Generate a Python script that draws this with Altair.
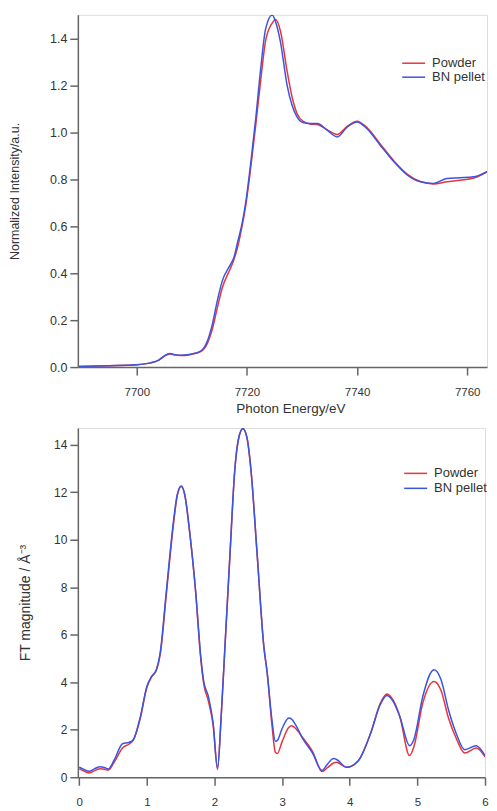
import altair as alt
import pandas as pd

# ---------------- XANES (top) ----------------
xanes_energy = [7689.5, 7695.0, 7700.0, 7702.5, 7704.0, 7705.0, 7706.0, 7707.0, 7708.0,
                7709.8, 7711.6, 7712.8, 7713.7, 7714.6, 7715.5, 7717.0, 7717.6, 7718.4,
                7719.2, 7719.8, 7720.7, 7721.6, 7722.5, 7723.4, 7724.6, 7725.2, 7726.1,
                7727.3, 7728.2, 7729.1, 7730.3, 7731.5, 7732.8, 7734.6, 7736.4, 7738.2,
                7740.0, 7741.8, 7744.2, 7746.7, 7749.1, 7751.5, 7753.9, 7756.3, 7758.7,
                7761.2, 7763.6, 7765.5]
xanes_powder = [0.003, 0.006, 0.010, 0.018, 0.030, 0.046, 0.056, 0.051, 0.049,
                0.054, 0.066, 0.100, 0.160, 0.250, 0.336, 0.420, 0.455, 0.520,
                0.610, 0.690, 0.850, 1.030, 1.220, 1.390, 1.465, 1.480, 1.430,
                1.260, 1.150, 1.080, 1.045, 1.035, 1.033, 1.010, 0.990, 1.025,
                1.047, 1.020, 0.950, 0.878, 0.822, 0.790, 0.780, 0.789, 0.796,
                0.805, 0.830, 0.850]
xanes_bn = [0.003, 0.006, 0.010, 0.018, 0.030, 0.048, 0.058, 0.052, 0.050,
            0.055, 0.068, 0.110, 0.180, 0.280, 0.365, 0.436, 0.464, 0.540,
            0.620, 0.704, 0.870, 1.058, 1.270, 1.440, 1.499, 1.470, 1.383,
            1.200, 1.115, 1.065, 1.040, 1.037, 1.037, 1.008, 0.980, 1.022,
            1.044, 1.015, 0.945, 0.874, 0.818, 0.789, 0.782, 0.803, 0.806,
            0.810, 0.832, 0.850]

# ---------------- FT (bottom) ----------------
ft_r = [0.00, 0.07, 0.15, 0.23, 0.31, 0.37, 0.43, 0.52, 0.64, 0.74, 0.80, 0.905,
        1.00, 1.07, 1.14, 1.20, 1.29, 1.39, 1.45, 1.508, 1.56, 1.63, 1.72, 1.80,
        1.84, 1.91, 1.98, 2.045, 2.10, 2.155, 2.23, 2.30, 2.36, 2.42, 2.48, 2.54,
        2.63, 2.73, 2.78, 2.85, 2.90, 2.93, 3.00, 3.10, 3.14, 3.20, 3.30, 3.45,
        3.59, 3.67, 3.76, 3.80, 3.95, 4.12, 4.31, 4.45, 4.55, 4.65, 4.74, 4.885,
        4.95, 5.08, 5.245, 5.35, 5.46, 5.58, 5.70, 5.87, 6.00]
ft_powder = [0.35, 0.26, 0.18, 0.28, 0.36, 0.34, 0.30, 0.65, 1.23, 1.40, 1.56, 2.50,
             3.78, 4.22, 4.50, 5.20, 7.75, 10.55, 11.85, 12.24, 11.90, 10.40, 7.85, 4.90,
             3.95, 3.20, 2.20, 0.33, 2.60, 5.50, 9.42, 12.92, 14.30, 14.67, 14.30, 12.92,
             9.42, 5.50, 4.38, 2.20, 1.05, 1.00, 1.50, 2.10, 2.17, 2.05, 1.68, 1.09,
             0.24, 0.40, 0.60, 0.63, 0.42, 0.67, 1.86, 3.10, 3.50, 3.20, 2.56, 0.91,
             1.30, 3.12, 4.03, 3.65, 2.49, 1.60, 1.02, 1.23, 0.86]
ft_bn = [0.42, 0.33, 0.25, 0.36, 0.44, 0.41, 0.35, 0.74, 1.41, 1.47, 1.58, 2.56,
         3.82, 4.24, 4.52, 5.30, 7.88, 10.68, 11.90, 12.26, 11.90, 10.40, 7.88, 5.00,
         4.05, 3.40, 2.28, 0.39, 2.60, 5.50, 9.42, 12.92, 14.30, 14.67, 14.30, 12.92,
         9.42, 5.50, 4.38, 2.40, 1.51, 1.55, 2.05, 2.49, 2.45, 2.20, 1.65, 1.02,
         0.28, 0.55, 0.79, 0.76, 0.42, 0.67, 1.86, 3.05, 3.44, 3.15, 2.56, 1.33,
         1.60, 3.40, 4.52, 4.10, 2.84, 1.80, 1.16, 1.33, 0.91]

series_names = ["Powder", "BN pellet"]
series_colors = ["#e8343c", "#3a55e0"]

xanes_df = pd.DataFrame({
    "x": xanes_energy * 2,
    "y": xanes_powder + xanes_bn,
    "series": [series_names[0]] * len(xanes_energy) + [series_names[1]] * len(xanes_energy),
})
ft_df = pd.DataFrame({
    "x": ft_r * 2,
    "y": ft_powder + ft_bn,
    "series": [series_names[0]] * len(ft_r) + [series_names[1]] * len(ft_r),
})

FONT = "Liberation Sans"
AXIS_COLOR = "#666666"
TEXT_COLOR = "#333333"


def panel(df, xdom, ydom, xticks, yticks, yfmt, xfmt, ytitle, xtitle, xtitle_x,
          width, height, y_title_pad, y_title_size, y_label_size,
          legend_x, legend_y, legend_row_pad):
    color = alt.Color(
        "series:N",
        scale=alt.Scale(domain=series_names, range=series_colors),
        legend=alt.Legend(
            title=None, orient="none", legendX=legend_x, legendY=legend_y,
            symbolType="M-2,0H2", symbolSize=132, symbolStrokeWidth=1.5,
            labelFontSize=13, labelFont=FONT, labelColor=TEXT_COLOR,
            labelOffset=12, rowPadding=legend_row_pad, padding=0,
        ),
    )
    xaxis_kw = dict(values=xticks, format=xfmt, grid=False,
                    tickSize=8, labelPadding=11, domainColor=AXIS_COLOR,
                    tickColor=AXIS_COLOR, domainWidth=1.5, tickWidth=1.5,
                    labelFont=FONT, labelFontSize=11.5, labelColor=TEXT_COLOR,
                    labelFlush=False, labelOverlap=False)
    if xtitle:
        xaxis_kw.update(title=xtitle, titleFont=FONT, titleFontSize=13.5,
                        titleFontWeight="normal", titleColor=TEXT_COLOR,
                        titlePadding=4, titleX=xtitle_x)
    else:
        xaxis_kw.update(title=None)
    xenc = alt.X("x:Q", scale=alt.Scale(domain=xdom, nice=False, zero=False),
                 axis=alt.Axis(**xaxis_kw))
    yenc = alt.Y(
        "y:Q",
        scale=alt.Scale(domain=ydom, nice=False, zero=False),
        axis=alt.Axis(values=yticks, format=yfmt, title=ytitle, grid=False,
                      tickSize=8, labelPadding=3, domainColor=AXIS_COLOR,
                      tickColor=AXIS_COLOR, domainWidth=1.5, tickWidth=1.5,
                      labelFont=FONT, labelFontSize=y_label_size,
                      labelColor=TEXT_COLOR, labelFlush=False,
                      titleFont=FONT, titleFontSize=y_title_size,
                      titleFontWeight="normal",
                      titleColor=TEXT_COLOR, titlePadding=y_title_pad),
    )
    base = alt.Chart(df).mark_line(strokeWidth=1.5, interpolate="monotone", clip=True)
    layers = []
    for name in series_names:
        layers.append(
            base.transform_filter(alt.datum.series == name).encode(
                x=xenc, y=yenc, color=color
            )
        )
    return alt.layer(*layers).properties(width=width, height=height)


top = panel(xanes_df, [7689.3, 7763.6], [0, 1.5],
            [7700, 7720, 7740, 7760], [0, 0.2, 0.4, 0.6, 0.8, 1.0, 1.2, 1.4],
            ".1f", "d", "Normalized Intensity/a.u.", "Photon Energy/eV", 213,
            410, 353, 28, 12.5, 12.5, 330, 42, 0)

bottom = panel(ft_df, [-0.02, 6.0], [0, 14.7],
               [0, 1, 2, 3, 4, 5, 6], [0, 2, 4, 6, 8, 10, 12, 14],
               "d", "d", "FT magnitude / Å⁻³", None, 0,
               408, 350, 21, 14, 12, 332, 39, 1)

chart = alt.vconcat(top, bottom, spacing=11).resolve_legend(
    color="independent"
).properties(
    padding={"left": 0, "top": 5, "right": 0, "bottom": 0}
).configure_view(stroke=None).configure(background="white")

chart.save("out.html", embed_options={"renderer": "svg", "actions": False})
